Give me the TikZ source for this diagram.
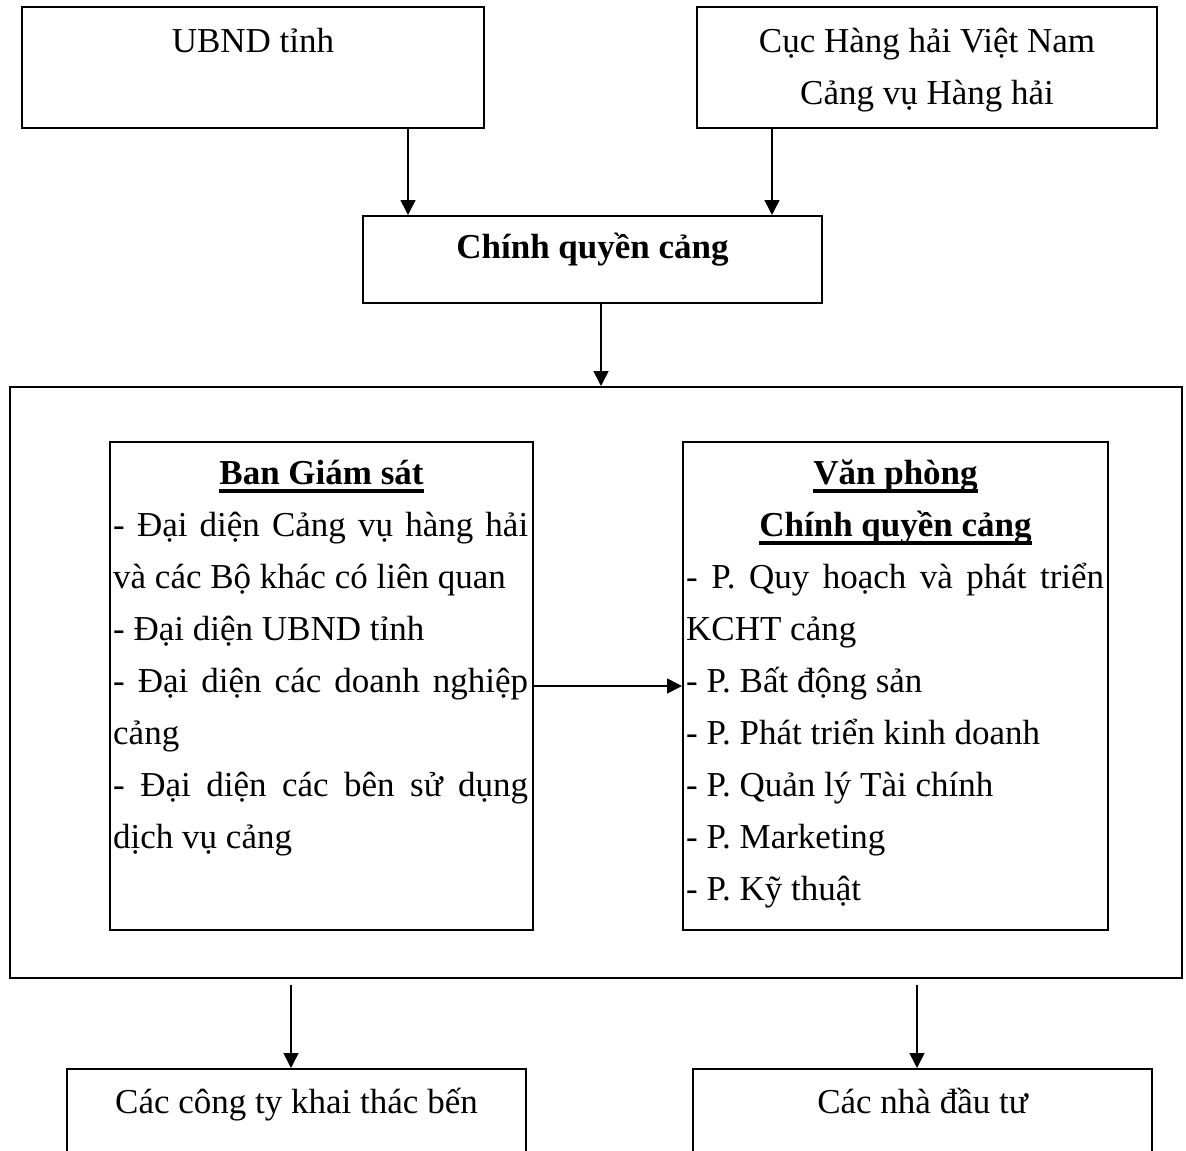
\documentclass[tikz,border=0pt]{standalone}
\usepackage{fontspec}
\setmainfont{Liberation Serif}
\usetikzlibrary{arrows.meta}
\newcommand{\myul}[1]{\setbox0\hbox{#1}\rlap{\rule[-8.5pt]{\wd0}{3.6pt}}\box0}
\newcommand{\jl}[2]{\makebox[#1][s]{#2}}
\begin{document}
\begin{tikzpicture}[x=1pt,y=-1pt,
  box/.style={draw, line width=2pt, rectangle, inner sep=0pt},
  arr/.style={line width=1.6pt, -{Triangle[length=15pt,width=15pt]}},
  txt/.style={anchor=base, inner sep=0pt, font=\fontsize{35}{52}\selectfont},
  btxt/.style={anchor=base, inner sep=0pt, font=\fontsize{35}{52}\selectfont\bfseries},
  lline/.style={anchor=base west, inner sep=0pt, font=\fontsize{35}{52}\selectfont}
]
\clip (0,0) rectangle (1186,1151);
\fill[white] (0,0) rectangle (1186,1151);

% boxes
\node[box, minimum width=462pt, minimum height=121pt] (ubnd) at (253,67.5) {};
\node[box, minimum width=460pt, minimum height=121pt] (cuc) at (927,67.5) {};
\node[box, minimum width=459pt, minimum height=87pt] (cq) at (592.5,259.5) {};
\node[box, minimum width=1172pt, minimum height=591pt] (big) at (596,682.5) {};
\node[box, minimum width=423pt, minimum height=488pt] (bgs) at (321.5,686) {};
\node[box, minimum width=425pt, minimum height=488pt] (vp) at (895.5,686) {};
\node[box, minimum width=459pt, minimum height=140pt] (b1) at (296.5,1139) {};
\node[box, minimum width=459pt, minimum height=140pt] (b2) at (922.5,1139) {};

% texts
\node[txt] (t1) at (253,52) {UBND tỉnh};
\node[txt] (t2a) at (927,52) {Cục Hàng hải Việt Nam};
\node[txt] (t2b) at (927,104) {Cảng vụ Hàng hải};
\node[btxt] (t3) at (592.5,258) {Chính quyền cảng};

\node[btxt] (g0) at (321.5,484) {\myul{Ban Giám sát}};
\node[lline] (g1) at (113,536) {\jl{415pt}{- Đại diện Cảng vụ hàng hải}};
\node[lline] (g2) at (113,588) {và các Bộ khác có liên quan};
\node[lline] (g3) at (113,640) {- Đại diện UBND tỉnh};
\node[lline] (g4) at (113,692) {\jl{415pt}{- Đại diện các doanh nghiệp}};
\node[lline] (g5) at (113,744) {cảng};
\node[lline] (g6) at (113,796) {\jl{415pt}{- Đại diện các bên sử dụng}};
\node[lline] (g7) at (113,848) {dịch vụ cảng};

\node[btxt] (v0) at (895.5,484) {\myul{Văn phòng}};
\node[btxt] (v1) at (895.5,536) {\myul{Chính quyền cảng}};
\node[lline] (v2) at (686,588) {\jl{418pt}{- P. Quy hoạch và phát triển}};
\node[lline] (v3) at (686,640) {KCHT cảng};
\node[lline] (v4) at (686,692) {- P. Bất động sản};
\node[lline] (v5) at (686,744) {- P. Phát triển kinh doanh};
\node[lline] (v6) at (686,796) {- P. Quản lý Tài chính};
\node[lline] (v7) at (686,848) {- P. Marketing};
\node[lline] (v8) at (686,900) {- P. Kỹ thuật};

\node[txt] (t4) at (296.5,1113) {Các công ty khai thác bến};
\node[txt] (t5) at (922.5,1113) {Các nhà đầu tư};

% connectors
\coordinate (a1) at (408,0);
\coordinate (a2) at (772,0);
\coordinate (a3) at (601,0);
\coordinate (a4) at (291,0);
\coordinate (a5) at (917,0);
\draw[arr] (ubnd.south -| a1) -- (cq.north -| a1);
\draw[arr] (cuc.south -| a2) -- (cq.north -| a2);
\draw[arr] (cq.south -| a3) -- (big.north -| a3);
\draw[arr] (bgs.east) -- (vp.west);
\draw[arr] ([yshift=-6pt]big.south -| a4) -- (b1.north -| a4);
\draw[arr] ([yshift=-6pt]big.south -| a5) -- (b2.north -| a5);
\end{tikzpicture}
\end{document}
